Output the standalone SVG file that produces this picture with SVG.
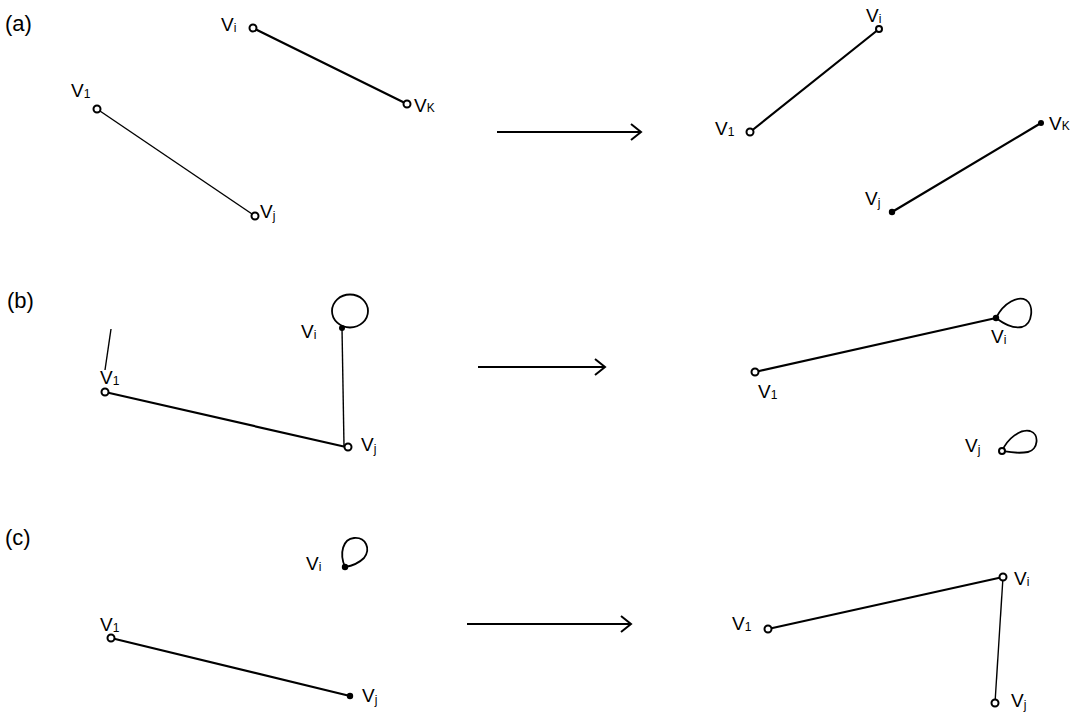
<svg xmlns="http://www.w3.org/2000/svg" width="1076" height="728" viewBox="0 0 1076 728">
<defs>
<style>
.edge{stroke:#000;stroke-width:2.2;fill:none;stroke-linecap:round}
.thin{stroke:#000;stroke-width:1.4;fill:none}
.loop{stroke:#000;stroke-width:1.8;fill:none}
.open{fill:#fff;stroke:#000;stroke-width:2}
.dot{fill:#000}
.lbl{font-family:"Liberation Sans","DejaVu Sans",sans-serif;font-size:19px;fill:#000}
.sub{font-size:12px}
.panel{font-family:"Liberation Sans","DejaVu Sans",sans-serif;font-size:22px;fill:#000}
.arrow{stroke:#000;stroke-width:2;fill:none}
</style>
<marker id="ah" markerUnits="userSpaceOnUse" markerWidth="14" markerHeight="18" refX="11" refY="9" orient="auto">
<path d="M1,1 L11,9 L1,17" fill="none" stroke="#000" stroke-width="2"/>
</marker>
</defs>
<rect width="1076" height="728" fill="#fff"/>

<text class="panel" x="5" y="31">(a)</text>
<text class="panel" x="7" y="308">(b)</text>
<text class="panel" x="5" y="545">(c)</text>

<g id="connectors">
<!-- (a) -->
<line class="edge" x1="253" y1="28" x2="407" y2="104"/>
<line class="thin" x1="97" y1="109" x2="255" y2="216"/>
<line class="edge" x1="750" y1="132" x2="879" y2="29"/>
<line class="edge" x1="892" y1="212" x2="1041" y2="123"/>
<line class="arrow" x1="497" y1="132" x2="641" y2="132" marker-end="url(#ah)"/>
<!-- (b) -->
<line class="edge" x1="105" y1="392" x2="346" y2="447"/>
<line class="thin" x1="342" y1="328" x2="344" y2="446"/>
<line class="edge" x1="755" y1="372" x2="996" y2="318"/>
<line class="arrow" x1="478" y1="367" x2="605" y2="367" marker-end="url(#ah)"/>
<!-- (c) -->
<line class="edge" x1="111" y1="638" x2="350" y2="696"/>
<line class="edge" x1="768" y1="629" x2="1003" y2="577"/>
<line class="thin" x1="1003" y1="577" x2="995" y2="703"/>
<line class="arrow" x1="467" y1="624" x2="631" y2="624" marker-end="url(#ah)"/>
</g>

<!-- (a) left -->
<g id="a-left-vi">
<circle class="open" cx="253" cy="28" r="3.5"/>
<text class="lbl" x="221" y="31">V<tspan class="sub" dy="1">i</tspan></text>
</g>
<g id="a-left-vk">
<circle class="open" cx="407" cy="104" r="3.5"/>
<text class="lbl" x="414" y="112">V<tspan class="sub" dy="0">K</tspan></text>
</g>
<g id="a-left-v1">
<circle class="open" cx="97" cy="109" r="3.5"/>
<text class="lbl" x="71" y="97">V<tspan class="sub" dy="1">1</tspan></text>
</g>
<g id="a-left-vj">
<circle class="open" cx="255" cy="216" r="3.5"/>
<text class="lbl" x="260" y="218">V<tspan class="sub" dy="2">j</tspan></text>
</g>

<!-- (a) right -->
<g id="a-right-vi">
<circle class="open" cx="879" cy="29" r="3"/>
<text class="lbl" x="866" y="22">V<tspan class="sub" dy="1">i</tspan></text>
</g>
<g id="a-right-v1">
<circle class="open" cx="750" cy="132" r="3.5"/>
<text class="lbl" x="715" y="135">V<tspan class="sub" dy="1">1</tspan></text>
</g>
<g id="a-right-vk">
<circle class="dot" cx="1041" cy="123" r="3"/>
<text class="lbl" x="1049" y="130">V<tspan class="sub" dy="0">K</tspan></text>
</g>
<g id="a-right-vj">
<circle class="dot" cx="892" cy="212" r="3.2"/>
<text class="lbl" x="865" y="205">V<tspan class="sub" dy="2">j</tspan></text>
</g>

<!-- (b) left -->
<g id="b-left-v1">
<circle class="open" cx="105" cy="392" r="3.5"/>
<line class="thin" x1="111" y1="329" x2="105" y2="370"/>
<text class="lbl" x="100" y="384">V<tspan class="sub" dy="1">1</tspan></text>
</g>
<g id="b-left-vi">
<ellipse class="loop" cx="350" cy="311" rx="18" ry="16.5"/>
<circle class="dot" cx="342" cy="328" r="3"/>
<text class="lbl" x="301" y="338">V<tspan class="sub" dy="1">i</tspan></text>
</g>
<g id="b-left-vj">
<circle class="open" cx="348" cy="447" r="3.5"/>
<text class="lbl" x="361" y="451">V<tspan class="sub" dy="2">j</tspan></text>
</g>

<!-- (b) right -->
<g id="b-right-v1">
<circle class="open" cx="755" cy="372" r="3.5"/>
<text class="lbl" x="758" y="398">V<tspan class="sub" dy="1">1</tspan></text>
</g>
<g id="b-right-vi">
<path class="loop" d="M996,318 C1004,302 1018,296 1026,300 C1034,305 1033,324 1022,327 C1012,329 1003,323 996,318 Z"/>
<circle class="dot" cx="996" cy="318" r="3.2"/>
<text class="lbl" x="991" y="343">V<tspan class="sub" dy="1">i</tspan></text>
</g>
<g id="b-right-vj">
<path class="loop" d="M1002,451 C1008,438 1020,429 1030,431 C1040,434 1038,450 1028,452 C1018,454 1008,452 1002,451 Z"/>
<circle class="open" cx="1002" cy="451" r="3"/>
<text class="lbl" x="965" y="452">V<tspan class="sub" dy="2">j</tspan></text>
</g>

<!-- (c) left -->
<g id="c-left-vi">
<path class="loop" d="M345,567 C339,553 343,539 354,538 C366,537 371,549 364,558 C358,564 351,566 345,567 Z"/>
<circle class="dot" cx="345" cy="567" r="3.2"/>
<text class="lbl" x="306" y="570">V<tspan class="sub" dy="1">i</tspan></text>
</g>
<g id="c-left-v1">
<circle class="open" cx="111" cy="638" r="3.5"/>
<text class="lbl" x="100" y="631">V<tspan class="sub" dy="1">1</tspan></text>
</g>
<g id="c-left-vj">
<circle class="dot" cx="350" cy="696" r="3.2"/>
<text class="lbl" x="362" y="702">V<tspan class="sub" dy="2">j</tspan></text>
</g>

<!-- (c) right -->
<g id="c-right-v1">
<circle class="open" cx="768" cy="629" r="3.5"/>
<text class="lbl" x="732" y="630">V<tspan class="sub" dy="1">1</tspan></text>
</g>
<g id="c-right-vi">
<circle class="open" cx="1003" cy="577" r="3.5"/>
<text class="lbl" x="1014" y="585">V<tspan class="sub" dy="1">i</tspan></text>
</g>
<g id="c-right-vj">
<circle class="open" cx="995" cy="703" r="3.5"/>
<text class="lbl" x="1011" y="707">V<tspan class="sub" dy="2">j</tspan></text>
</g>
</svg>
